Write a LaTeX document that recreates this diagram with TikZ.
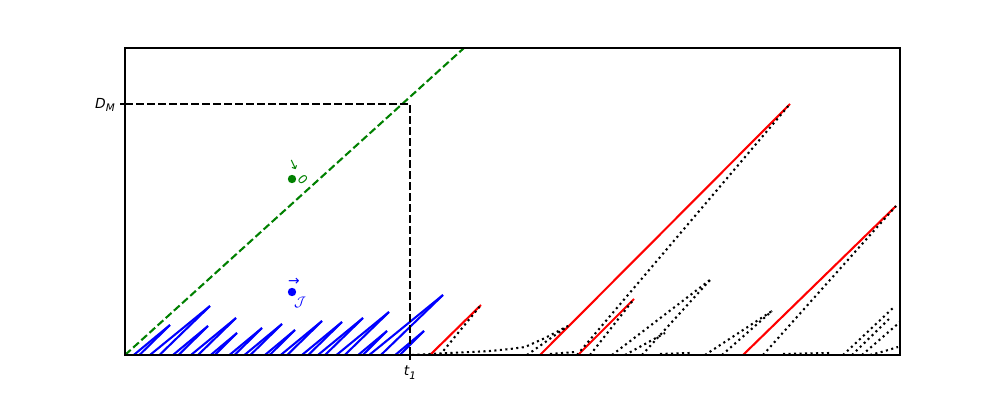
\documentclass[tikz,border=0pt]{standalone}
\usepackage{fontspec}
\setmainfont{DejaVu Sans}
\definecolor{mplgreen}{rgb}{0,0.5,0}
\begin{document}
\begin{tikzpicture}[x=0.7227pt,y=-0.7227pt,
  ax/.style={line width=0.8pt},
  bl/.style={blue, line width=1.5pt},
  rd/.style={red, line width=1.5pt},
  dt/.style={black, line width=1.5pt, dash pattern=on 1.5pt off 2.475pt},
  kd/.style={black, line width=1.5pt, dash pattern=on 5.55pt off 2.4pt},
  gd/.style={mplgreen, line width=1.5pt, dash pattern=on 5.55pt off 2.4pt},
  lbl/.style={inner sep=0pt, font=\fontsize{10}{12}\selectfont}]
\useasboundingbox (0,0) rectangle (1000,400);
\begin{scope}
\clip (125,48) rectangle (900,355);
% blue wedges
\foreach \px/\py in {170/325,210/306,208/326,236/318,237/333,262/328,282/324,295/330,322/321,342/322,363/318,387/331,389/312,424/331,443/295}{
  \draw[bl] ({\px-(355-\py)/0.95},356) -- (\px,\py);
  \draw[bl] ({\px-(355-\py)/0.8},356) -- (\px,\py);
}
% red lines
\draw[rd] (430,355) -- (481,305);
\draw[rd] (540,355) -- (790,104);
\draw[rd] (578,355) -- (634,299);
\draw[rd] (743,355) -- (896,206);
% dotted lines
\draw[dt] (440,355) -- (481,305);
\draw[dt] (577,355) -- (790,104);
\draw[dt] (590,355) -- (634,299);
\draw[dt] (763,355) -- (896,206);
\draw[dt] (412,355) -- (430,354) -- (450,353) -- (470,352) -- (490,351) -- (510,349) -- (525,347) -- (545,338) -- (568,326);
\draw[dt] (527,355) -- (568,326);
\draw[dt] (550,354) -- (575,352);
\draw[dt] (612,355) -- (710,280);
\draw[dt] (642,355) -- (710,280);
\draw[dt] (625,355) -- (665,333);
\draw[dt] (660,354) -- (690,353);
\draw[dt] (705,355) -- (772,311);
\draw[dt] (722,355) -- (772,311);
\draw[dt] (783,354) -- (830,353);
\draw[dt] (843,355) -- (893,308);
\draw[dt] (852,355) -- (890,318);
\draw[dt] (862,355) -- (900,322);
\draw[dt] (870,355) -- (885,351) -- (898,347);
% green dashed
\draw[gd] (125,355) -- (464,48);
% black dashed
\draw[kd] (125,104) -- (410,104) -- (410,355);
\end{scope}
\draw[ax] (125,48) rectangle (900,355);
% ticks
\draw[ax] (125,104) -- (120.1,104);
\draw[ax] (410,355) -- (410,359.9);
\node[lbl, anchor=east] (dm) at (115,105) {\itshape D\raisebox{-0.4ex}{\fontsize{7.5}{8}\selectfont M}};
\node[lbl, anchor=north] (t1) at (410,366) {\itshape t\raisebox{-0.4ex}{\fontsize{7.5}{8}\selectfont 1}};
% markers and labels
\fill[mplgreen] (292,179) circle (4.2);
\fill[blue] (292,292) circle (4.2);
\node[lbl, mplgreen, rotate=-65] (va) at (293,165) {→};
\node[lbl, mplgreen, rotate=-50, font=\fontsize{9}{10}\selectfont] (v0) at (303,180) {0};
\node[lbl, blue] (ja) at (294,282) {→};
\node[lbl, blue] (jj) at (300,302) {$\mathcal{J}$};
\end{tikzpicture}
\end{document}
